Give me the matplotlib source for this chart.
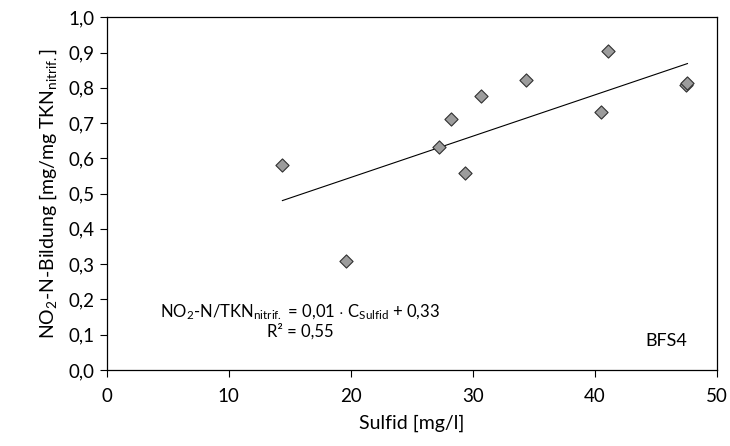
import matplotlib
matplotlib.use("Agg")
import matplotlib.pyplot as plt
from matplotlib.ticker import FuncFormatter, MultipleLocator
import numpy as np

plt.rcParams['font.family'] = ['Lato', 'DejaVu Sans']
plt.rcParams['mathtext.fontset'] = 'custom'
plt.rcParams['mathtext.rm'] = 'Lato'

# Sulfid concentration [mg/l] and NO2-N formation [mg/mg TKN nitrif.]
sulfid = [14.4, 19.6, 27.2, 28.2, 29.4, 30.7, 34.4, 40.5, 41.1, 47.5, 47.6]
no2_bildung = [0.580, 0.310, 0.631, 0.712, 0.558, 0.777, 0.822, 0.732, 0.905, 0.807, 0.815]

eq_text = ('$\\mathregular{NO_2}$-N/TKN$\\mathregular{_{nitrif.}}$ = 0,01 $\\cdot$ '
           'C$\\mathregular{_{Sulfid}}$ + 0,33')
r2_text = 'R² = 0,55'
station = 'BFS4'

fig = plt.figure(figsize=(7.3, 4.46), dpi=100)
ax = fig.add_axes([0.1462, 0.1706, 0.8356, 0.7906])

ax.scatter(sulfid, no2_bildung, marker='D', s=45, facecolor='#9c9c9c',
           edgecolor='#303030', linewidth=0.8, zorder=3)

# linear trend line over the data range
slope, icpt = np.polyfit(sulfid, no2_bildung, 1)
xs = np.array([min(sulfid), max(sulfid)])
ax.plot(xs, slope * xs + icpt, color='black', linewidth=0.8, zorder=2)

ax.set_xlim(0, 50)
ax.set_ylim(0, 1.0)
ax.xaxis.set_major_locator(MultipleLocator(10))
ax.yaxis.set_major_locator(MultipleLocator(0.1))
ax.yaxis.set_major_formatter(FuncFormatter(lambda v, p: f"{v:.1f}".replace('.', ',')))
ax.tick_params(direction='out', length=5, width=0.8, labelsize=13.5, color='black')
ax.tick_params(axis='x', pad=8)
for sp in ax.spines.values():
    sp.set_linewidth(0.9)

ax.set_xlabel('Sulfid [mg/l]', fontsize=14, labelpad=7)
ax.set_ylabel('$\\mathregular{NO_2}$-N-Bildung [mg/mg TKN$\\mathregular{_{nitrif.}}$]',
              fontsize=14, labelpad=7)

ax.text(0.317, 0.162, eq_text, transform=ax.transAxes, ha='center', va='center', fontsize=12)
ax.text(0.317, 0.108, r2_text, transform=ax.transAxes, ha='center', va='center', fontsize=12)
ax.text(0.918, 0.083, station, transform=ax.transAxes, ha='center', va='center', fontsize=13)

fig.savefig('out.png', dpi=100)
